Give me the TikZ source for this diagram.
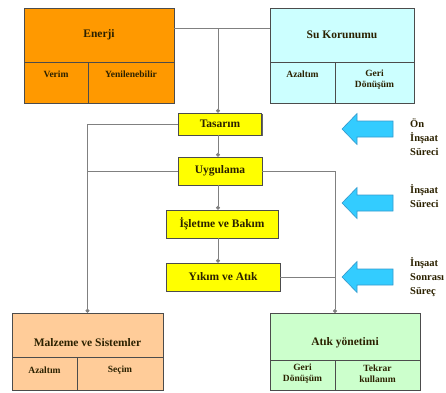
\documentclass[tikz,border=0pt]{standalone}
\usepackage{fontspec}
\setmainfont{Liberation Serif}
\usetikzlibrary{arrows.meta,shadows}
\definecolor{enerjiturunc}{HTML}{FF9900}
\definecolor{sucyan}{HTML}{CCFFFF}
\definecolor{evresari}{HTML}{FFFF00}
\definecolor{malzemeten}{HTML}{FFCC99}
\definecolor{atikyesil}{HTML}{CCFFCC}
\definecolor{okmavi}{HTML}{33CCFF}
\definecolor{okkenar}{HTML}{3399CC}
\definecolor{cizgi}{HTML}{808080}
\definecolor{yazi}{HTML}{2B2100}

\begin{document}
\begin{tikzpicture}[x=1pt, y=-1pt,
    every node/.style={text=yazi, font=\bfseries\fontsize{11.5}{13}\selectfont},
    kutu/.style={draw=black!70, line width=0.6pt, inner sep=0pt},
    bolme/.style={draw=black!70, line width=0.6pt},
    evre/.style={kutu, fill=evresari, minimum height=28pt,
                 drop shadow={shadow xshift=1.2pt, shadow yshift=-1.2pt,
                              fill=black!60, opacity=1}},
    hat/.style={draw=cizgi, line width=0.6pt},
    nokta/.style={hat, -{Circle[length=4pt]}},
    hucre/.style={align=center, font=\bfseries\fontsize{9.5}{11}\selectfont},
    surec/.style={anchor=north west, align=left, inner sep=0pt,
                  font=\bfseries\fontsize{10.5}{14}\selectfont},
    faz/.style={fill=okmavi, draw=okkenar, line width=0.6pt}]

  \useasboundingbox (0,0) rectangle (446,392);

  %% Enerji
  \node[kutu, fill=enerjiturunc, minimum width=150pt, minimum height=95pt] (enerji) at (99,55.5) {};
  \node (enerjibaslik) at (99,35) {Enerji};
  \draw[bolme] (24,62) -- (174,62);
  \draw[bolme] (88,62) -- (88,103);
  \node[hucre] (verim) at (56,74) {Verim};
  \node[hucre] (yenilenebilir) at (131,74) {Yenilenebilir};

  %% Su Korunumu
  \node[kutu, fill=sucyan, minimum width=144pt, minimum height=95pt] (su) at (342,55.5) {};
  \node (subaslik) at (342,35) {Su Korunumu};
  \draw[bolme] (270,62) -- (414,62);
  \draw[bolme] (335,62) -- (335,103);
  \node[hucre] (suazaltim) at (302.5,74) {Azaltım};
  \node[hucre] (sugeri) at (374.5,80) {Geri\\Dönüşüm};

  %% Yaşam döngüsü evreleri
  \node[evre, minimum width=83pt, minimum height=22pt] (tasarim) at (220,124) {Tasarım};
  \node[evre, minimum width=84pt] (uygulama) at (220,171) {Uygulama};
  \node[evre, minimum width=112pt] (isletme) at (222,224) {İşletme ve Bakım};
  \node[evre, minimum width=114pt] (yikim) at (223,277) {Yıkım ve Atık};

  %% Malzeme ve Sistemler
  \node[kutu, fill=malzemeten, minimum width=151pt, minimum height=77pt] (malzeme) at (87.5,351.5) {};
  \node (malzemebaslik) at (87.5,343) {Malzeme ve Sistemler};
  \draw[bolme] (12,357) -- (163,357);
  \draw[bolme] (77,357) -- (77,390);
  \node[hucre] (mazaltim) at (44.5,370) {Azaltım};
  \node[hucre] (secim) at (120,370) {Seçim};

  %% Atık yönetimi
  \node[kutu, fill=atikyesil, minimum width=150pt, minimum height=77pt] (atik) at (345,351.5) {};
  \node (atikbaslik) at (345,343) {Atık yönetimi};
  \draw[bolme] (270,360) -- (420,360);
  \draw[bolme] (335,360) -- (335,390);
  \node[hucre] (atikgeri) at (302.5,374) {Geri\\Dönüşüm};
  \node[hucre] (tekrar) at (377.5,374) {Tekrar\\kullanım};

  %% Bağlantılar
  \coordinate (ayrim) at (218,28);
  \coordinate (atikgiris) at (335,313);
  \draw[hat] (enerji.east |- ayrim) -- (su.west |- ayrim);
  \draw[nokta] (ayrim) -- (ayrim |- tasarim.north);
  \draw[nokta] (tasarim.south -| ayrim) -- (uygulama.north -| ayrim);
  \draw[nokta] (uygulama.south -| ayrim) -- (isletme.north -| ayrim);
  \draw[nokta] (isletme.south -| ayrim) -- (yikim.north -| ayrim);

  \draw[hat] (tasarim.west) -- (tasarim.west -| malzeme.north);
  \draw[hat] (uygulama.west) -- (uygulama.west -| malzeme.north);
  \draw[nokta] (tasarim.west -| malzeme.north) -- (malzeme.north);

  \draw[hat] (uygulama.east) -- (uygulama.east -| atikgiris);
  \draw[hat] (yikim.east) -- (yikim.east -| atikgiris);
  \draw[nokta] (uygulama.east -| atikgiris) -- (atikgiris);

  %% Süreç okları
  \foreach \y in {129,203,277}
    \draw[faz] (342,\y) -- ++(15,-15.5) -- ++(0,7.5) -- ++(36,0)
               -- ++(0,16) -- ++(-36,0) -- ++(0,7.5) -- cycle;

  \node[surec] (onsurec) at (410,119) {Ön\\İnşaat\\Süreci};
  \node[surec] (insaatsurec) at (410,184) {İnşaat\\Süreci};
  \node[surec] (sonrasurec) at (410,257) {İnşaat\\Sonrası\\Süreç};

\end{tikzpicture}
\end{document}
